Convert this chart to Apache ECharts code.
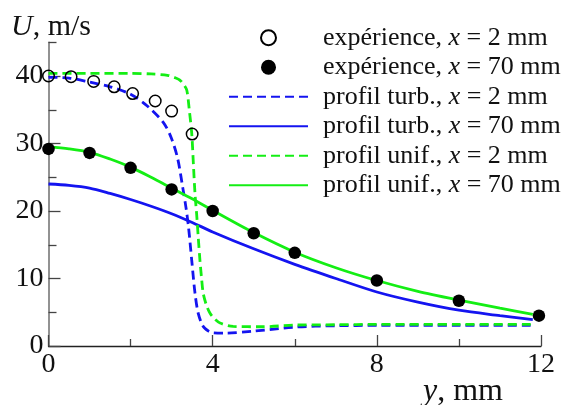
<!DOCTYPE html>
<html>
<head>
<meta charset="utf-8">
<script src="https://cdn.jsdelivr.net/npm/echarts@6/dist/echarts.min.js"></script>
<style>html,body{margin:0;padding:0;background:#fff}#c{width:571px;height:405px}</style>
</head>
<body>
<div id="c"></div>
<script>
// ---- data (y in mm, U in m/s) ----
const expX2  = [0, 0.55, 1.1, 1.6, 2.05, 2.6, 3.0, 3.5];
const expU2  = [40.0, 39.9, 39.2, 38.4, 37.4, 36.3, 34.8, 31.4];
const expX70 = [0, 1, 2, 3, 4, 5, 6, 8, 10, 11.95];
const expU70 = [29.2, 28.6, 26.4, 23.2, 20.0, 16.7, 13.8, 9.7, 6.7, 4.5];

const turbX2 = [0, 0.5, 1, 1.5, 2, 2.4, 2.8, 3.0, 3.15, 3.27, 3.35, 3.41, 3.49, 3.57, 3.65, 3.77, 3.9, 4.0, 4.3, 5, 6, 7, 8, 10, 11.8];
const turbU2 = [39.8, 39.7, 39.1, 38.4, 37.3, 35.6, 33.1, 30.7, 27.7, 23.5, 20.5, 17.7, 12.7, 7.8, 4.8, 2.9, 2.2, 1.95, 1.9, 2.2, 2.8, 3.0, 3.05, 3.05, 3.05];
const turbX70 = [0, 0.5, 1, 1.5, 2, 2.5, 3, 3.5, 4, 5, 6, 7, 8, 9, 10, 11, 11.8];
const turbU70 = [24.0, 23.8, 23.4, 22.6, 21.7, 20.7, 19.6, 18.3, 16.9, 14.4, 12.1, 10.0, 8.0, 6.5, 5.3, 4.5, 3.9];

const unifX2 = [0, 1, 2, 2.5, 2.9, 3.1, 3.2, 3.3, 3.37, 3.43, 3.49, 3.53, 3.57, 3.61, 3.65, 3.69, 3.73, 3.77, 3.85, 3.94, 4.05, 4.18, 4.5, 5.2, 6, 7, 8, 10, 11.8];
const unifU2 = [40.4, 40.4, 40.4, 40.3, 40.1, 39.7, 39.4, 38.7, 37.9, 35.0, 31.5, 27.0, 22.5, 19.5, 16.0, 12.7, 10.0, 7.8, 6.0, 4.8, 4.0, 3.4, 2.9, 2.85, 3.1, 3.15, 3.2, 3.2, 3.2];
const unifX70 = [0, 0.5, 1, 1.5, 2, 2.5, 3, 3.5, 4, 5, 6, 7, 8, 9, 10, 11, 11.8];
const unifU70 = [29.5, 29.2, 28.7, 27.7, 26.5, 25.0, 23.4, 21.8, 20.1, 16.8, 13.9, 11.6, 9.7, 8.1, 6.8, 5.6, 4.7];

const seriesNames = [
  'expérience, x = 2 mm',
  'expérience, x = 70 mm',
  'profil turb., x = 2 mm',
  'profil turb., x = 70 mm',
  'profil unif., x = 2 mm',
  'profil unif., x = 70 mm'
];
const xMajorTicks = [0, 4, 8, 12];
const xMinorTicks = [2, 6, 10];
const yMajorTicks = [0, 10, 20, 30, 40];
const yMinorTicks = [5, 15, 25, 35, 45];

// ---- build ----
const zip = (xs, ys) => xs.map((x, i) => [x, ys[i]]);
const FONT = "'Liberation Serif', 'Times New Roman', serif";
const BLUE = '#1414f0';
const GREEN = '#14ee14';
const DASH = [9, 5];

const chart = echarts.init(document.getElementById('c'), null, {renderer: 'canvas'});

const lineSeries = (name, xs, ys, color, dashed) => ({
  name, type: 'line', data: zip(xs, ys), xAxisIndex: 0, yAxisIndex: 0,
  symbol: 'none', smooth: 0.3,
  lineStyle: {color, width: 2.8, type: dashed ? DASH : 'solid'},
  itemStyle: {color}, z: 2, silent: true
});

const option = {
  animation: false,
  backgroundColor: '#fff',
  textStyle: {fontFamily: FONT},
  grid: {left: 48.5, right: 30, top: 42.25, bottom: 59, outerBoundsMode: 'none', containLabel: false},
  xAxis: [{
    type: 'value', min: 0, max: 12, interval: 4,
    axisLine: {show: true, lineStyle: {color: '#222', width: 1.3}},
    axisTick: {show: true, inside: true, length: 11, customValues: xMajorTicks, lineStyle: {color: '#444', width: 1.3}},
    axisLabel: {show: true, customValues: xMajorTicks, margin: 5, color: '#111', fontFamily: FONT, fontSize: 28},
    splitLine: {show: false},
    name: '{i|y}, mm', nameLocation: 'end', nameGap: -118,
    nameTextStyle: {
      fontFamily: FONT, fontSize: 32, color: '#111', align: 'left', verticalAlign: 'top',
      padding: [30, 0, 0, 0],
      rich: {i: {fontFamily: FONT, fontStyle: 'italic', fontSize: 32, color: '#111'}}
    }
  }, {
    type: 'value', min: 0, max: 12, gridIndex: 0, position: 'bottom',
    axisLine: {show: false},
    axisTick: {show: true, inside: true, length: 7, customValues: xMinorTicks, lineStyle: {color: '#444', width: 1.3}},
    axisLabel: {show: false}, splitLine: {show: false}
  }],
  yAxis: [{
    type: 'value', min: 0, max: 45,
    axisLine: {show: true, lineStyle: {color: '#777', width: 1.6}},
    axisTick: {show: true, inside: true, length: 12, customValues: yMajorTicks, lineStyle: {color: '#444', width: 1.3}},
    axisLabel: {show: true, customValues: yMajorTicks, margin: 5, color: '#111', fontFamily: FONT, fontSize: 28},
    splitLine: {show: false},
    name: '{i|U}, m/s', nameLocation: 'end', nameGap: 15,
    nameTextStyle: {
      fontFamily: FONT, fontSize: 30, color: '#111', align: 'center', verticalAlign: 'middle',
      padding: [0, 0, 0, 5],
      rich: {i: {fontFamily: FONT, fontStyle: 'italic', fontSize: 30, color: '#111'}}
    }
  }, {
    type: 'value', min: 0, max: 45, gridIndex: 0, position: 'left',
    axisLine: {show: false},
    axisTick: {show: true, inside: true, length: 8, customValues: yMinorTicks, lineStyle: {color: '#444', width: 1.3}},
    axisLabel: {show: false}, splitLine: {show: false}
  }],
  legend: {
    orient: 'vertical', left: 228, top: 23, padding: 0,
    itemWidth: 79, itemHeight: 15, itemGap: 0,
    selectedMode: false,
    data: seriesNames.map((n, i) => i < 2 ? {name: n} : {name: n, itemStyle: {opacity: 0}}),
    formatter: n => n.replace(', x =', ', {i|x} ='),
    textStyle: {
      fontFamily: FONT, fontSize: 26, color: '#111', lineHeight: 29.5,
      padding: [0, 0, 0, 10],
      rich: {i: {fontFamily: FONT, fontStyle: 'italic', fontSize: 26, color: '#111', lineHeight: 29.5}}
    }
  },
  series: [
    lineSeries(seriesNames[2], turbX2, turbU2, BLUE, true),
    lineSeries(seriesNames[3], turbX70, turbU70, BLUE, false),
    lineSeries(seriesNames[4], unifX2, unifU2, GREEN, true),
    lineSeries(seriesNames[5], unifX70, unifU70, GREEN, false),
    {
      name: seriesNames[0], type: 'scatter', data: zip(expX2, expU2),
      symbol: 'circle', symbolSize: 11.5, z: 3, silent: true,
      itemStyle: {color: 'rgba(255,255,255,0)', borderColor: '#000', borderWidth: 1.5, opacity: 1}
    },
    {
      name: seriesNames[1], type: 'scatter', data: zip(expX70, expU70),
      symbol: 'circle', symbolSize: 12.5, z: 3, silent: true,
      itemStyle: {color: '#000', borderColor: '#000', borderWidth: 0, opacity: 1}
    }
  ]
};
chart.setOption(option);
</script>
</body>
</html>
